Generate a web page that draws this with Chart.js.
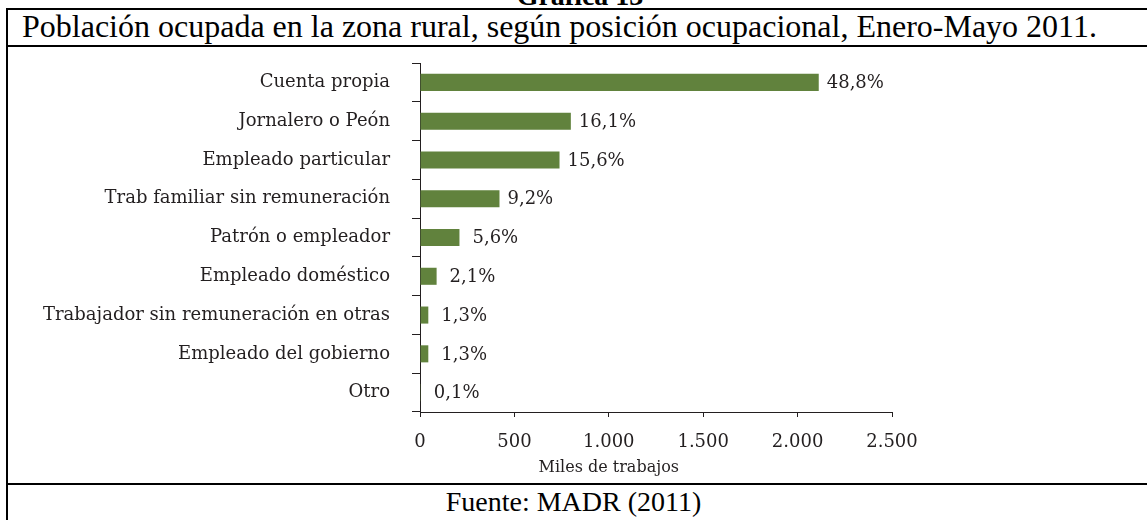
<!DOCTYPE html>
<html>
<head>
<meta charset="utf-8">
<script src="https://cdn.jsdelivr.net/npm/chart.js@4.4.1/dist/chart.umd.min.js"></script>
<style>
  html, body { margin: 0; padding: 0; background: #fff; width: 1147px; height: 520px; overflow: hidden; position: relative; }
  .line { position: absolute; background: #000; }
  .txt { position: absolute; font-family: "Liberation Serif", "Times New Roman", serif; font-size: 28px; line-height: 28px; color: #000; white-space: nowrap; }
  #chartBox { position: absolute; left: 8px; top: 47px; width: 1139px; height: 436px; }
</style>
</head>
<body>
<div class="txt" id="gtitle" style="font-weight:bold; left:0; width:1160px; text-align:center; top:-18px;">Gráfica 13</div>
<div class="line" style="left:6px; top:8px; width:1160px; height:2px;"></div>
<div class="line" style="left:6px; top:8px; width:2px; height:520px;"></div>
<div class="txt" id="head" style="left:22px; top:10px; font-size:32px; line-height:32px;">Población ocupada en la zona rural, según posición ocupacional, Enero-Mayo 2011.</div>
<div class="line" style="left:6px; top:45px; width:1160px; height:2px;"></div>
<div id="chartBox"><canvas id="c" width="1139" height="436"></canvas></div>
<div class="line" style="left:6px; top:483px; width:1160px; height:2px;"></div>
<div class="txt" id="foot" style="left:0; width:1147px; text-align:center; top:488px;">Fuente: MADR (2011)</div>
<script>
// ---- data ----
const categories = [
  "Cuenta propia",
  "Jornalero o Peón",
  "Empleado particular",
  "Trab familiar sin remuneración",
  "Patrón o empleador",
  "Empleado doméstico",
  "Trabajador sin remuneración en otras",
  "Empleado del gobierno",
  "Otro"
];
const values = [2112, 799, 739, 421, 209, 88, 44, 44, 4];
const percentLabels = ["48,8%", "16,1%", "15,6%", "9,2%", "5,6%", "2,1%", "1,3%", "1,3%", "0,1%"];
const xTicks = [0, 500, 1000, 1500, 2000, 2500];
const xTickLabels = ["0", "500", "1.000", "1.500", "2.000", "2.500"];
const axisTitle = "Miles de trabajos";

const INK = '#231f20';
const SERIF = '"DejaVu Serif", serif';

const labelPlugin = {
  id: 'valLabels',
  afterDatasetsDraw(chart) {
    const ctx = chart.ctx;
    const meta = chart.getDatasetMeta(0);
    ctx.save();
    ctx.font = '18px ' + SERIF;
    ctx.fillStyle = INK;
    ctx.textBaseline = 'middle';
    ctx.textAlign = 'left';
    meta.data.forEach((bar, i) => {
      const gap = values[i] > 300 ? 8 : 13;
      ctx.fillText(percentLabels[i], bar.x + gap, bar.y + 1);
    });
    const xs = chart.scales.x;
    ctx.font = '16px ' + SERIF;
    ctx.textAlign = 'center';
    ctx.fillText(axisTitle, xs.getPixelForValue(1000), xs.bottom - 15);
    ctx.restore();
  }
};

new Chart(document.getElementById('c'), {
  type: 'bar',
  data: {
    labels: categories,
    datasets: [{
      data: values,
      backgroundColor: '#61823d',
      borderWidth: 0,
      barPercentage: 0.44,
      categoryPercentage: 1
    }]
  },
  options: {
    indexAxis: 'y',
    responsive: false,
    animation: false,
    events: [],
    layout: { padding: { left: 0, top: 16, right: 255, bottom: 0 } },
    plugins: { legend: { display: false }, tooltip: { enabled: false }, title: { display: false } },
    scales: {
      y: {
        type: 'category',
        grid: { drawOnChartArea: false, offset: true, tickLength: 8, color: INK, lineWidth: 1 },
        border: { color: INK, width: 1 },
        ticks: { color: INK, font: { family: SERIF, size: 18 }, padding: 22, autoSkip: false },
        afterFit(s) { s.width = 412; s.paddingTop = 0; s.paddingBottom = 0; }
      },
      x: {
        type: 'linear',
        min: 0,
        max: 2500,
        afterBuildTicks(s) { s.ticks = xTicks.map(v => ({ value: v })); },
        grid: { drawOnChartArea: false, tickLength: 5, color: INK, lineWidth: 1 },
        border: { color: INK, width: 1 },
        ticks: {
          color: INK,
          font: { family: SERIF, size: 18 },
          padding: 15,
          maxRotation: 0,
          callback(v) { const i = xTicks.indexOf(v); return i >= 0 ? xTickLabels[i] : ''; }
        },
        afterFit(s) { s.height = 71; }
      }
    }
  },
  plugins: [labelPlugin]
});
</script>
</body>
</html>
